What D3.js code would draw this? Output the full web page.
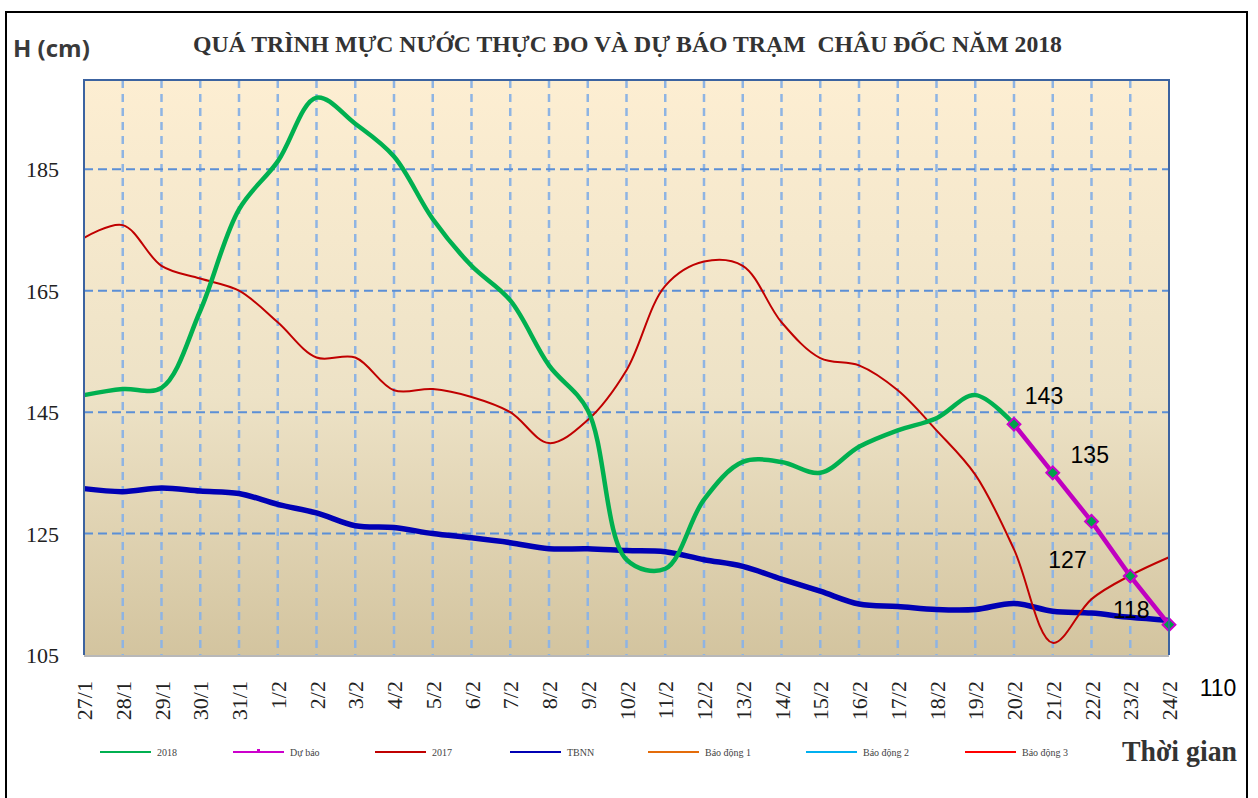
<!DOCTYPE html>
<html>
<head>
<meta charset="utf-8">
<script src="https://cdn.jsdelivr.net/npm/d3@7"></script>
<style>
  body { margin: 0; background: #fff; }
  svg { display: block; }
</style>
</head>
<body>
<script>
const days = ['27/1','28/1','29/1','30/1','31/1','1/2','2/2','3/2','4/2','5/2','6/2','7/2','8/2','9/2',
  '10/2','11/2','12/2','13/2','14/2','15/2','16/2','17/2','18/2','19/2','20/2','21/2','22/2','23/2','24/2'];

// measured 2018 (up to 20/2)
const h2018 = [147.8,148.8,149,161.7,178.4,186.3,196.8,192.5,187.1,176.8,169.1,163.4,152.7,145.3,
  120.7,119.2,130.6,136.8,136.8,135,139.3,142,144,147.8,143];
// forecast 20/2 -> 24/2
const forecastDays = ['20/2','21/2','22/2','23/2','24/2'];
const forecast = [143,135,127,118,110];
const h2017 = [173.7,175.8,169.1,167,165,159.8,154,154,148.6,148.8,147.5,145,139.9,143.7,151.9,165.8,
  169.8,169.1,159.8,153.9,152.7,148.6,142,134.7,122.4,107.0,114.2,118.1,121.1];
const tbnn = [132.4,131.9,132.5,132,131.6,129.8,128.4,126.3,126,125,124.3,123.5,122.5,122.5,122.2,122,
  120.7,119.6,117.5,115.5,113.4,113,112.5,112.5,113.5,112.2,111.9,111.2,110.7];

const yTicks = [105,125,145,165,185];
const legendNames = ['2018','Dự báo','2017','TBNN','Báo động 1','Báo động 2','Báo động 3'];
const legendColors = ['#00b050','#cc00cc','#c00000','#0000b4','#e46c0a','#00b0f0','#ff0000'];
// label offsets for forecast values (dx, dy)
const labelOffsets = [[30,-28],[37,-18],[-24,39],[1,34],[49,63]];

const W = 1258, H = 798;
const svg = d3.select('body').append('svg').attr('width', W).attr('height', H);

const x = d3.scalePoint().domain(days).range([84, 1169]);
const y = d3.scaleLinear().domain([105, 199.7]).range([655, 80]);

// outer frame
svg.append('rect').attr('x', 6).attr('y', 12).attr('width', 1241).attr('height', 800)
  .attr('fill', 'none').attr('stroke', '#000').attr('stroke-width', 2);

const defs = svg.append('defs');
const grad = defs.append('linearGradient').attr('id', 'bg').attr('x1', 0).attr('y1', 0).attr('x2', 0).attr('y2', 1);
grad.append('stop').attr('offset', '0%').attr('stop-color', '#fdeed2');
grad.append('stop').attr('offset', '55%').attr('stop-color', '#ede2c6');
grad.append('stop').attr('offset', '100%').attr('stop-color', '#d3c49f');

const pLeft = 84, pRight = 1169, pTop = 80, pBottom = 655;
svg.append('rect').attr('x', pLeft).attr('y', pTop).attr('width', pRight - pLeft).attr('height', pBottom - pTop)
  .attr('fill', 'url(#bg)');

const g = svg.append('g');

// vertical grid
g.append('g').selectAll('line').data(days.slice(1, -1)).join('line')
  .attr('x1', d => x(d)).attr('x2', d => x(d)).attr('y1', pTop).attr('y2', pBottom)
  .attr('stroke', '#8eb4e3').attr('stroke-width', 2.5).attr('stroke-dasharray', '8,6');
// horizontal grid
g.append('g').selectAll('line').data(yTicks.slice(1)).join('line')
  .attr('x1', pLeft).attr('x2', pRight).attr('y1', d => y(d)).attr('y2', d => y(d))
  .attr('stroke', '#5b8fd6').attr('stroke-width', 2).attr('stroke-dasharray', '9,5');

// plot border
svg.append('path').attr('d', `M${pLeft},${pBottom}V${pTop}H${pRight}V${pBottom}`)
  .attr('fill', 'none').attr('stroke', '#3c63a0').attr('stroke-width', 2);
svg.append('line').attr('x1', pLeft).attr('x2', pRight).attr('y1', pBottom + 1).attr('y2', pBottom + 1)
  .attr('stroke', '#b8b8b8').attr('stroke-width', 2);

const smooth = d3.line().x((d, i) => x(days[i])).y(d => y(d)).curve(d3.curveCatmullRom.alpha(0.5));

g.append('path').datum(tbnn).attr('d', smooth).attr('fill', 'none')
  .attr('stroke', '#0000b4').attr('stroke-width', 5.5);
g.append('path').datum(h2017).attr('d', smooth).attr('fill', 'none')
  .attr('stroke', '#c00000').attr('stroke-width', 2);
g.append('path').datum(h2018).attr('d', smooth).attr('fill', 'none')
  .attr('stroke', '#00b050').attr('stroke-width', 4.5);

const fLine = d3.line().x((d, i) => x(forecastDays[i])).y(d => y(d));
g.append('path').datum(forecast).attr('d', fLine).attr('fill', 'none')
  .attr('stroke', '#c000c0').attr('stroke-width', 4.5);

const diamond = d3.symbol().type(d3.symbolDiamond2).size(105);
g.append('g').selectAll('path').data(forecast).join('path')
  .attr('d', diamond)
  .attr('transform', (d, i) => `translate(${x(forecastDays[i])},${y(d)})`)
  .attr('fill', '#00a04a').attr('stroke', '#cc00cc').attr('stroke-width', 2);

svg.append('g').selectAll('text').data(forecast).join('text')
  .attr('x', (d, i) => x(forecastDays[i]) + labelOffsets[i][0])
  .attr('y', (d, i) => y(d) + labelOffsets[i][1] + 8)
  .attr('text-anchor', 'middle')
  .attr('font-family', 'Liberation Sans, Arial, sans-serif').attr('font-size', 23)
  .attr('fill', '#000').text(d => d);

// y axis labels
svg.append('g').selectAll('text').data(yTicks).join('text')
  .attr('x', 59).attr('y', d => y(d) + 8).attr('text-anchor', 'end')
  .attr('font-family', 'Liberation Serif, serif').attr('font-size', 22).attr('fill', '#222')
  .text(d => d);

// x axis labels (rotated)
svg.append('g').selectAll('text').data(days).join('text')
  .attr('transform', d => `translate(${x(d) + 8},681) rotate(-90)`)
  .attr('text-anchor', 'end')
  .attr('font-family', 'Liberation Serif, serif').attr('font-size', 22).attr('fill', '#222')
  .text(d => d);

// titles
svg.append('text').attr('x', 13).attr('y', 57)
  .attr('font-family', 'Open Sans, sans-serif').attr('font-weight', 'bold').attr('font-size', 24)
  .attr('fill', '#3a3a3a').text('H (cm)');
svg.append('text').attr('x', 193).attr('y', 52)
  .style('white-space', 'pre')
  .attr('font-family', 'Liberation Serif, serif').attr('font-weight', 'bold').attr('font-size', 24)
  .attr('textLength', 869).attr('lengthAdjust', 'spacingAndGlyphs')
  .attr('fill', '#333').text('QUÁ TRÌNH MỰC NƯỚC THỰC ĐO VÀ DỰ BÁO TRẠM  CHÂU ĐỐC NĂM 2018');
svg.append('text').attr('x', 1122).attr('y', 761)
  .attr('font-family', 'Liberation Serif, serif').attr('font-weight', 'bold').attr('font-size', 29)
  .attr('textLength', 115).attr('lengthAdjust', 'spacingAndGlyphs')
  .attr('fill', '#333').text('Thời gian');

// legend
const legendX = [100, 233, 375, 510, 648, 806, 965];
const lg = svg.append('g').selectAll('g').data(legendNames).join('g')
  .attr('transform', (d, i) => `translate(${legendX[i]},752)`);
lg.append('line').attr('x1', 0).attr('x2', 51).attr('y1', 0).attr('y2', 0)
  .attr('stroke', (d, i) => legendColors[i]).attr('stroke-width', 2);
lg.filter(d => d === 'Dự báo').append('rect').attr('x', 24).attr('y', -3).attr('width', 3).attr('height', 3)
  .attr('fill', '#cc00cc');
lg.append('text').attr('x', 57).attr('y', 4)
  .attr('font-family', 'Liberation Serif, serif').attr('font-size', 10).attr('fill', '#444')
  .text(d => d);
</script>
</body>
</html>
